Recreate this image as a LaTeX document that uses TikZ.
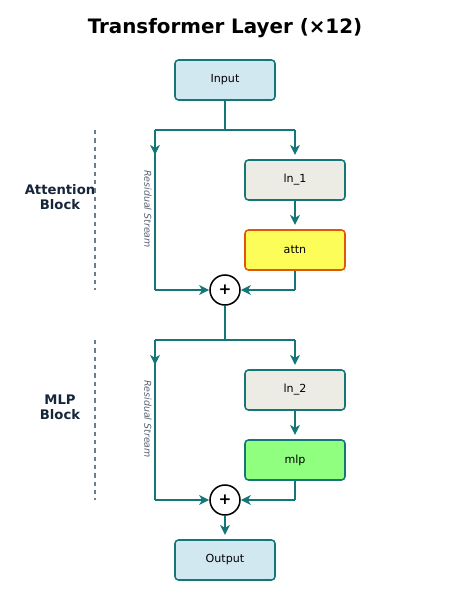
\documentclass[tikz,border=0pt]{standalone}
\usepackage{fontspec}
\setmainfont{DejaVu Sans}
\usetikzlibrary{arrows.meta}

\definecolor{streamteal}{RGB}{20,118,120}
\definecolor{iofill}{RGB}{210,232,240}
\definecolor{normfill}{RGB}{236,236,228}
\definecolor{attnfill}{RGB}{253,253,90}
\definecolor{attnedge}{RGB}{226,86,10}
\definecolor{mlpfill}{RGB}{144,255,128}
\definecolor{blockink}{RGB}{22,38,58}
\definecolor{guide}{RGB}{110,124,140}

\begin{document}
\begin{tikzpicture}[x=0.72pt, y=-0.72pt,
  flow/.style={draw=streamteal, line width=1.1pt},
  tip/.style={-{Stealth[length=7.2pt, width=7pt, inset=2pt]}},
  box/.style={draw=streamteal, line width=1.1pt, rounded corners=2.5pt, minimum width=72pt, minimum height=28.8pt, inner sep=0pt, font=\fontsize{8}{9}\selectfont},
  iobox/.style={box, fill=iofill},
  normbox/.style={box, fill=normfill},
  attnbox/.style={box, draw=attnedge, fill=attnfill},
  mlpbox/.style={box, fill=mlpfill},
  addnode/.style={circle, draw=black, line width=1.1pt, fill=white, minimum size=21.6pt, inner sep=0pt, font=\bfseries\fontsize{11}{11}\selectfont},
  blocklabel/.style={align=center, text=blockink, font=\bfseries\fontsize{9.5}{11}\selectfont},
  streamlabel/.style={rotate=-90, text=guide!80!black, font=\itshape\fontsize{6.8}{8}\selectfont}
]
  \useasboundingbox (0,0) rectangle (450,600);

  \node[font=\bfseries\fontsize{14.3}{17}\selectfont] (title) at (225,28) {Transformer Layer (×12)};

  \node[iobox] (input) at (225,80) {Input};
  \node[iobox] (output) at (225,560) {Output};

  \foreach \k/\dy/\lname/\opname/\opstyle/\blabel in {
      1/0/ln\_1/attn/attnbox/{Attention\\Block},
      2/210/ln\_2/mlp/mlpbox/{MLP\\Block}} {
    \coordinate (split\k) at (225,130+\dy);
    \coordinate (left\k) at (155,130+\dy);
    \coordinate (right\k) at (295,130+\dy);
    \coordinate (leftend\k) at (155,290+\dy);
    \coordinate (rightend\k) at (295,290+\dy);
    \node[normbox] (ln\k) at (295,180+\dy) {\lname};
    \node[\opstyle] (op\k) at (295,250+\dy) {\opname};
    \node[addnode] (add\k) at (225,290+\dy) {+};
    \node[blocklabel] (block\k) at (60,197+\dy) {\blabel};
    \node[streamlabel] (stream\k) at (148,209+\dy) {Residual Stream};
    % split into residual and branch
    \draw[flow] (left\k) -- (right\k);
    \draw[flow, tip] (left\k) -- ++(0,25);
    \draw[flow, tip] (right\k) -- ++(0,25);
    \draw[flow] (left\k) -- (leftend\k);
    \draw[flow, tip] (leftend\k) -- (add\k);
    \draw[flow, tip] (ln\k) -- ++(0,45);
    \draw[flow] (op\k) -- (rightend\k);
    \draw[flow, tip] (rightend\k) -- (add\k);
    \draw[guide, dashed, line width=0.9pt] (95,130+\dy) -- (95,290+\dy);
  }

  \draw[flow] (input) -- (split1);
  \draw[flow] (add1) -- (split2);
  \draw[flow, tip] (add2) -- ++(0,35);
\end{tikzpicture}
\end{document}
